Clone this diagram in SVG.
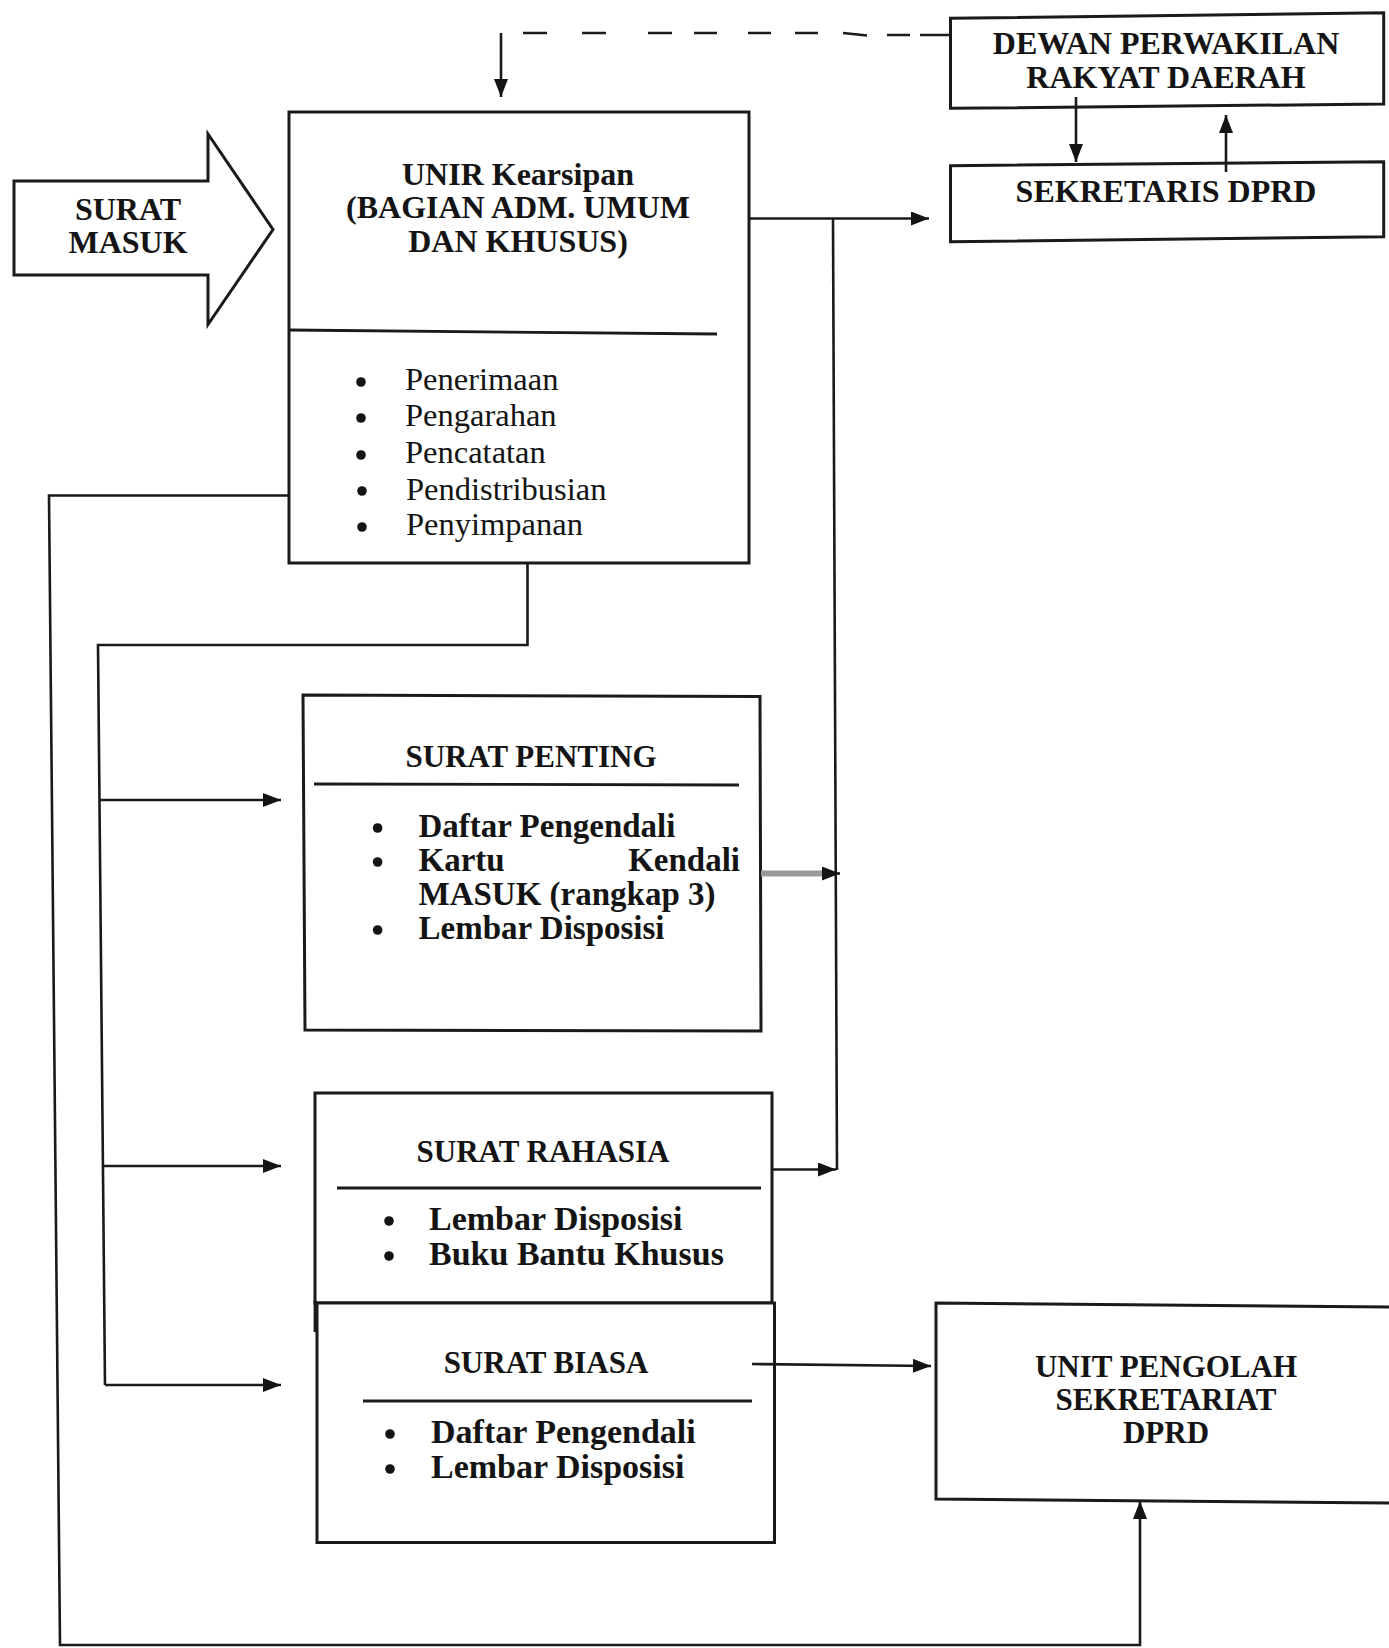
<svg xmlns="http://www.w3.org/2000/svg" width="1389" height="1648" viewBox="0 0 1389 1648">
  <style>
    .box { fill: #ffffff; stroke: #1a1a1a; stroke-width: 3; stroke-linejoin: miter; }
    .rule { fill: none; stroke: #1a1a1a; stroke-width: 2.8; }
    .wire { fill: none; stroke: #1a1a1a; stroke-width: 2.6; }
    .grey { fill: none; stroke: #9a9a9a; stroke-width: 6; }
    .head { font-family: "Liberation Serif", "Times New Roman", serif; font-weight: bold; font-size: 32px; fill: #141414; text-anchor: middle; }
    .title { font-family: "Liberation Serif", "Times New Roman", serif; font-weight: bold; font-size: 31px; fill: #141414; text-anchor: middle; }
    .item { font-family: "Liberation Serif", "Times New Roman", serif; font-size: 32.5px; fill: #141414; }
    .itemb { font-family: "Liberation Serif", "Times New Roman", serif; font-weight: bold; font-size: 34px; fill: #141414; }
    .tight { font-size: 33px; }
    .dot { fill: #141414; }
  </style>
  <defs>
    <marker id="arrow" viewBox="0 0 18 14" refX="18" refY="7" markerWidth="18" markerHeight="14" markerUnits="userSpaceOnUse" orient="auto">
      <path d="M0,0 L18,7 L0,14 Z" fill="#141414"/>
    </marker>
  </defs>

  <rect width="1389" height="1648" fill="#ffffff"/>

  <!-- incoming mail block arrow -->
  <g id="surat-masuk">
    <polygon class="box" points="14,181 208,181 208,134 273,229.5 208,324.5 208,275 14,275"/>
    <text class="head" x="128" y="220">SURAT</text>
    <text class="head" x="128" y="253">MASUK</text>
  </g>

  <!-- records unit -->
  <g id="unir-kearsipan">
    <rect class="box" x="289" y="112" width="460" height="451"/>
    <line class="rule" x1="289" y1="330" x2="717" y2="334"/>
    <text class="head" x="518" y="184.5">UNIR Kearsipan</text>
    <text class="head" x="518" y="218">(BAGIAN ADM. UMUM</text>
    <text class="head" x="518" y="252">DAN KHUSUS)</text>
    <circle class="dot" cx="361" cy="382" r="4.8"/>
    <circle class="dot" cx="361" cy="418" r="4.8"/>
    <circle class="dot" cx="361" cy="455" r="4.8"/>
    <circle class="dot" cx="362" cy="491" r="4.8"/>
    <circle class="dot" cx="362" cy="527" r="4.8"/>
    <text class="item" x="405" y="390">Penerimaan</text>
    <text class="item" x="405" y="426">Pengarahan</text>
    <text class="item" x="405" y="463">Pencatatan</text>
    <text class="item" x="406" y="499.5">Pendistribusian</text>
    <text class="item" x="406" y="535">Penyimpanan</text>
  </g>

  <!-- council -->
  <g id="dprd">
    <polygon class="box" points="950.5,18.3 1383.7,12.7 1383.7,104 950.5,108.3"/>
    <text class="head" x="1166" y="54.3">DEWAN PERWAKILAN</text>
    <text class="head" x="1166" y="88.3">RAKYAT DAERAH</text>
  </g>

  <!-- council secretary -->
  <g id="sekretaris-dprd">
    <polygon class="box" points="950.5,165.7 1383.7,161.7 1383.7,236.7 950.5,241.7"/>
    <text class="head" x="1166" y="201.7">SEKRETARIS DPRD</text>
  </g>

  <!-- important mail -->
  <g id="surat-penting">
    <polygon class="box" points="303,695 760,696.5 761,1031 305,1030"/>
    <line class="rule" x1="314" y1="784" x2="739" y2="785"/>
    <text class="title" x="531" y="767">SURAT PENTING</text>
    <circle class="dot" cx="377.6" cy="828" r="4.8"/>
    <circle class="dot" cx="377.6" cy="862" r="4.8"/>
    <circle class="dot" cx="377.6" cy="930" r="4.8"/>
    <text class="itemb tight" x="418.5" y="837">Daftar Pengendali</text>
    <text class="itemb tight" x="418.5" y="871">Kartu</text>
    <text class="itemb tight" x="740" y="871" text-anchor="end">Kendali</text>
    <text class="itemb tight" x="418.5" y="905">MASUK (rangkap 3)</text>
    <text class="itemb tight" x="418.5" y="939">Lembar Disposisi</text>
  </g>

  <!-- confidential mail -->
  <g id="surat-rahasia">
    <rect class="box" x="315" y="1093" width="457" height="210"/>
    <line class="rule" x1="315" y1="1300" x2="315" y2="1332"/>
    <line class="rule" x1="337" y1="1188" x2="761" y2="1188"/>
    <text class="title" x="543" y="1162">SURAT RAHASIA</text>
    <circle class="dot" cx="389" cy="1221" r="4.8"/>
    <circle class="dot" cx="389" cy="1256" r="4.8"/>
    <text class="itemb" x="429" y="1230">Lembar Disposisi</text>
    <text class="itemb" x="429" y="1265">Buku Bantu Khusus</text>
  </g>

  <!-- ordinary mail -->
  <g id="surat-biasa">
    <rect class="box" x="317" y="1303" width="457.5" height="239.5"/>
    <line class="rule" x1="363" y1="1401" x2="752" y2="1401"/>
    <text class="title" x="546" y="1373">SURAT BIASA</text>
    <circle class="dot" cx="390" cy="1434" r="4.8"/>
    <circle class="dot" cx="390" cy="1469" r="4.8"/>
    <text class="itemb" x="431" y="1443">Daftar Pengendali</text>
    <text class="itemb" x="431" y="1478">Lembar Disposisi</text>
  </g>

  <!-- processing unit (runs off the right edge) -->
  <g id="unit-pengolah">
    <path class="box" d="M1392,1307 L936,1303 L936,1499 L1392,1503"/>
    <text class="title" x="1166" y="1377">UNIT PENGOLAH</text>
    <text class="title" x="1166" y="1410">SEKRETARIAT</text>
    <text class="title" x="1166" y="1443">DPRD</text>
  </g>

  <g id="connectors">
    <!-- dashed return from the council -->
    <path class="wire" d="M523,33 H547 M582,33 H606 M648,33 H672 M694,33 H717 M748,33 H771 M795,33 H818 M843,33 L867,35.5 M887,35 H910 M920,35 H949"/>
    <path class="wire" d="M501,33 V97" marker-end="url(#arrow)"/>
    <!-- council / secretary exchange -->
    <path class="wire" d="M1076,97 V162" marker-end="url(#arrow)"/>
    <path class="wire" d="M1226,172 V115" marker-end="url(#arrow)"/>
    <!-- records unit to secretary, shared trunk -->
    <path class="wire" d="M749,218.5 H929" marker-end="url(#arrow)"/>
    <path class="wire" d="M833,218.5 L837,1170"/>
    <path class="grey" d="M761,873.5 H826"/>
    <path class="wire" d="M822,873.5 H840" marker-end="url(#arrow)"/>
    <path class="wire" d="M772,1169.5 H836" marker-end="url(#arrow)"/>
    <!-- ordinary mail to processing unit -->
    <path class="wire" d="M752,1364 L931,1366" marker-end="url(#arrow)"/>
    <!-- distribution to the three mail classes -->
    <path class="wire" d="M527.5,563 V645 H98 L105,1385"/>
    <path class="wire" d="M100,800 H281" marker-end="url(#arrow)"/>
    <path class="wire" d="M103,1166 H281" marker-end="url(#arrow)"/>
    <path class="wire" d="M105,1385 H281" marker-end="url(#arrow)"/>
    <!-- outer loop to the processing unit -->
    <path class="wire" d="M289,495.5 H49 L60,1645 H1140 V1501" marker-end="url(#arrow)"/>
  </g>
</svg>
